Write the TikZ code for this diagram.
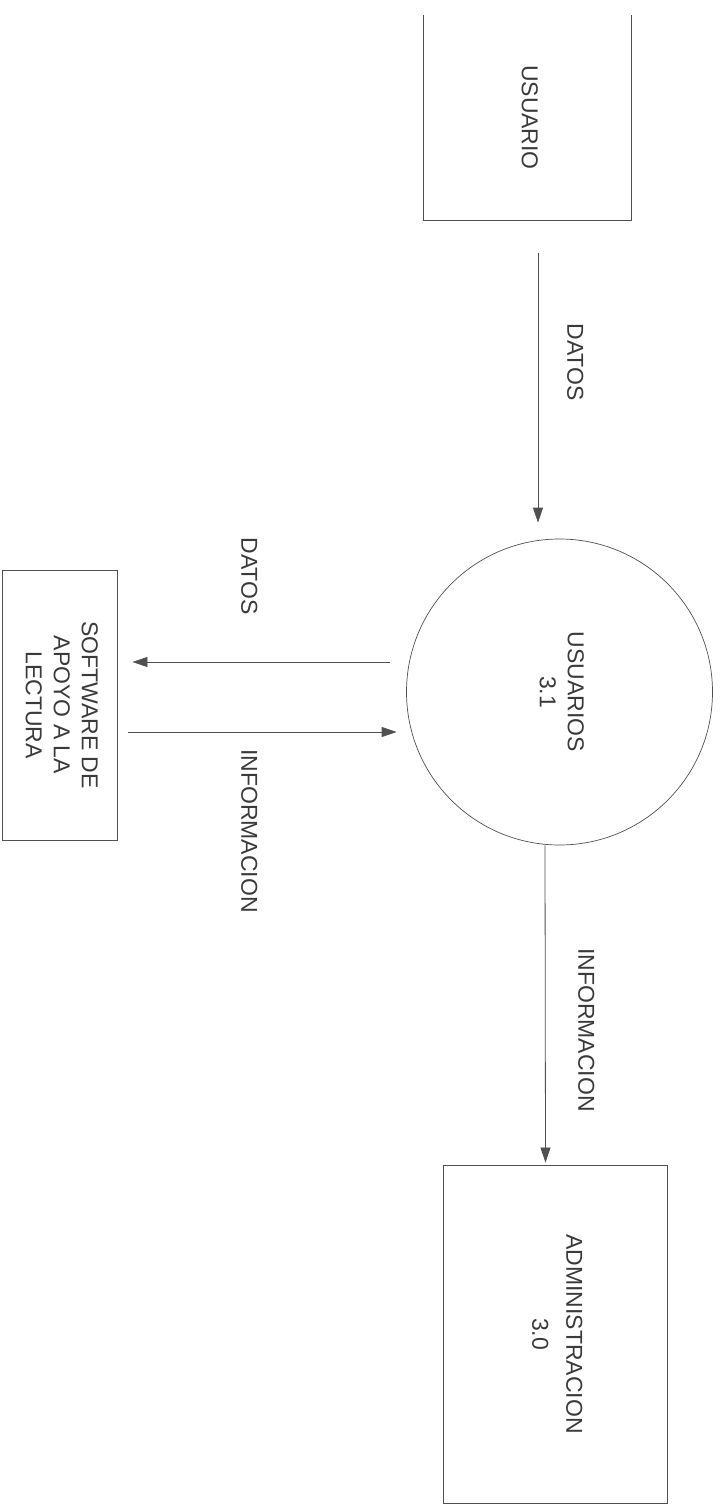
\documentclass[tikz,border=0pt]{standalone}
\usepackage{fontspec}
\usepackage{graphicx}
\setmainfont{Liberation Sans}
\usetikzlibrary{arrows.meta,calc}
\definecolor{ink}{HTML}{3A3A3A}
\definecolor{edge}{HTML}{505050}
\newcommand{\vtext}[1]{\rotatebox[origin=c]{-90}{\begin{tabular}{@{}c@{}}#1\end{tabular}}}
\tikzset{
  txt/.style={font=\fontsize{23}{28}\selectfont, text=ink, inner sep=0pt},
  boxshape/.style={rectangle, draw=edge, line width=0.9pt, inner sep=0pt},
  procshape/.style={circle, draw=edge, line width=0.7pt, inner sep=0pt},
  flow/.style={draw=edge, line width=0.8pt, -{Triangle[length=15pt,width=10pt]}},
  lbl/.style={txt}
}
\begin{document}
\begin{tikzpicture}[x=1pt,y=-1pt]
\useasboundingbox (0,0) rectangle (723,1506);
% entities and process
\node[rectangle, inner sep=0pt, minimum width=207pt, minimum height=205pt, txt] (usuario) at (527.5,117.5) {\vtext{USUARIO}};
\draw[edge, line width=0.9pt] (usuario.north west) -- (usuario.south west) -- (usuario.south east) -- (usuario.north east);
\node[procshape, minimum size=306pt, txt] (proc) at (559.5,692) {\vtext{USUARIOS\\3.1}};
\node[boxshape, minimum width=224pt, minimum height=338pt, txt] (admin) at (555,1334) {\vtext{ADMINISTRACION\\[6pt]3.0}};
\node[boxshape, minimum width=115pt, minimum height=270pt, txt] (soft) at (59.5,705) {\vtext{SOFTWARE DE\\APOYO A LA\\LECTURA}};
% flows
\draw[flow] ($(usuario.south)+(10.5,33)$) -- ($(proc.north)+(-21.5,-16)$);
\draw[flow] ($(proc.south)+(-14.5,0)$) -- ($(admin.north)+(-9.5,-2)$);
\draw[flow] ($(proc.west)+(-16.5,-30)$) -- ($(soft.east)+(15,-43)$);
\draw[flow] ($(soft.east)+(11,27)$) -- ($(proc.west)+(-9.5,40)$);
% labels
\node[lbl] (l1) at (573,362) {\vtext{DATOS}};
\node[lbl] (l2) at (584,1030) {\vtext{INFORMACION}};
\node[lbl] (l3) at (247,576) {\vtext{DATOS}};
\node[lbl] (l4) at (247,831) {\vtext{INFORMACION}};
\end{tikzpicture}
\end{document}
